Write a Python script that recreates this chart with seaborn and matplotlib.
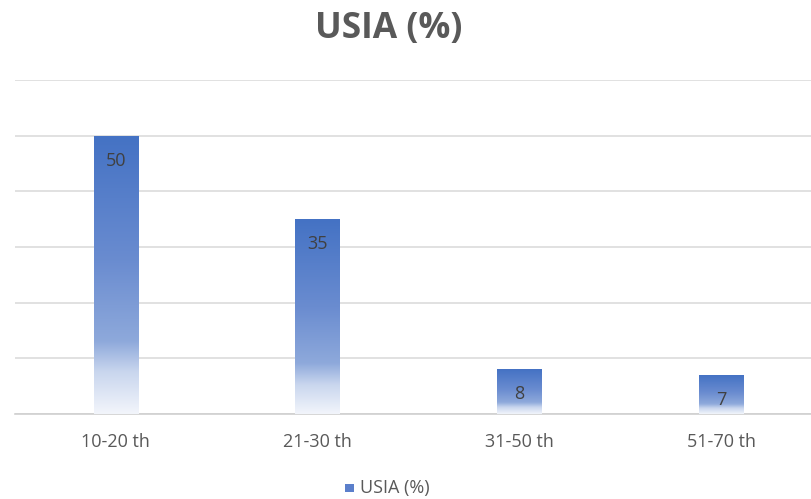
import numpy as np
import pandas as pd
import matplotlib
matplotlib.use("Agg")
import matplotlib.pyplot as plt
from matplotlib.colors import LinearSegmentedColormap
from matplotlib.patches import Rectangle
import seaborn as sns

# Age groups and their share (%)
categories = ["10-20 th", "21-30 th", "31-50 th", "51-70 th"]
values = [50, 35, 8, 7]
series_name = "USIA (%)"
title = "USIA (%)"

df = pd.DataFrame({"kelompok": categories, "persen": values})

sns.set_theme(style="white")
plt.rcParams["font.family"] = ["Open Sans", "DejaVu Sans"]

fig = plt.figure(figsize=(8.12, 4.99), dpi=100)
ax = fig.add_axes([15 / 812, 85 / 499, 807 / 812, 334 / 499])

sns.barplot(data=df, x="kelompok", y="persen", width=0.22, color="#4472C4",
            ax=ax, zorder=3)

ax.set_xlim(-0.5, 3.5)
ax.set_ylim(0, 60)
ax.set_yticks(np.arange(0, 61, 10))
ax.set_yticklabels([])
ax.tick_params(axis="y", length=0)
ax.tick_params(axis="x", length=0, pad=14, labelsize=13, labelcolor="#595959")
ax.grid(axis="y", color="#D9D9D9", linewidth=1.1, zorder=0)
for side in ["left", "right", "top"]:
    ax.spines[side].set_visible(False)
ax.spines["bottom"].set_color("#D0D0D0")
ax.spines["bottom"].set_linewidth(1.2)
ax.set_xlabel("")
ax.set_ylabel("")

# Vertical gradient fill: solid blue at the top fading to white at the base
grad_cmap = LinearSegmentedColormap.from_list(
    "bar_fade",
    [(0.0, "#F2F5FB"), (0.15, "#C9D6EE"), (0.26, "#8EA9DB"),
     (0.55, "#6A8CD0"), (1.0, "#4472C4")],
)
grad = np.linspace(0, 1, 256).reshape(-1, 1)
for patch, val in zip(ax.patches, values):
    x0, y0 = patch.get_x(), patch.get_y()
    w, h = patch.get_width(), patch.get_height()
    patch.set_facecolor("none")
    patch.set_edgecolor("none")
    im = ax.imshow(grad, cmap=grad_cmap, origin="lower", aspect="auto",
                   extent=[x0, x0 + w, y0, y0 + h], zorder=3,
                   interpolation="bicubic")
    clip = Rectangle((x0, y0), w, h, transform=ax.transData)
    im.set_clip_path(clip)
    ax.annotate(f"{val}", xy=(x0 + w / 2, y0 + h), xytext=(0, -25),
                textcoords="offset pixels",
                ha="center", va="center", fontsize=13, color="#404040",
                zorder=4)

ax.set_xlim(-0.5, 3.5)
ax.set_ylim(0, 60)

fig.text(0.4785, 1 - 29 / 499, title, ha="center", va="center",
         fontsize=25.5, fontweight="bold", color="#595959")

# Legend entry beneath the axis
fig.patches.append(Rectangle((345 / 812, 1 - 492 / 499), 9 / 812, 8 / 499,
                             transform=fig.transFigure, facecolor="#5B7FCB",
                             edgecolor="none"))
fig.text(360 / 812, 1 - 488 / 499, series_name, ha="left", va="center",
         fontsize=13, color="#595959")

fig.savefig("out.png", dpi=100, facecolor="white")
